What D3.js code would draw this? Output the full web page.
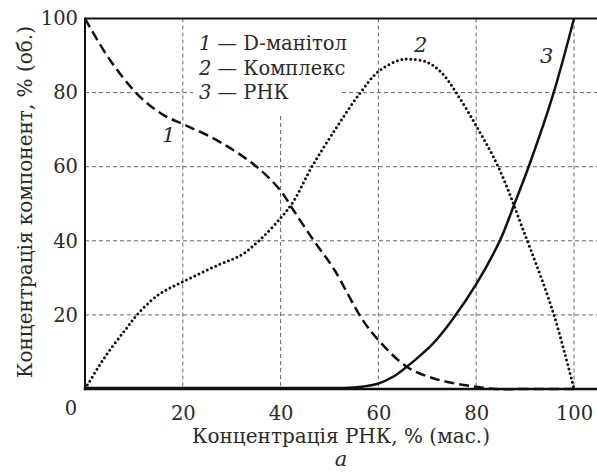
<!DOCTYPE html>
<html><head><meta charset="utf-8">
<script src="https://cdn.jsdelivr.net/npm/d3@7"></script>
<style>body{margin:0;background:#fff}svg{display:block}text{font-family:"DejaVu Serif",serif;fill:#2a2a2a}</style>
</head><body><svg id="c" width="597" height="474"></svg>
<script>
const xTicks=[20,40,60,80,100];
const yTicks=[20,40,60,80,100];
const mannitolX=[0,5,11.2,16,20,25,30.3,35.1,39.9,42.6,46.7,50.8,56.6,60,65.8,71.2,76,80,84,90,100];
const mannitolY=[100,89,78.9,74,71.5,68.5,64.5,60,53.7,48.3,40.2,32.6,19,13.2,6,2.9,1.4,0.6,0,0,0];
const complexX=[0,4.1,8.2,10.9,15,20.1,27.3,32,35.4,39.9,42.6,46.4,51.1,56.2,60,64.4,66.5,70,73,76,80.1,84.5,89.6,95.8,100];
const complexY=[0,8.7,15.9,20.4,25.4,29,33.5,36.2,39.8,46,50.6,60,69.9,79.8,85.7,88.8,89,88.2,85.3,79.8,70.8,60,43,20.4,0];
const rnaX=[0,20,40,50,54,57,60,63,65.8,68,71.2,75,80.1,84.9,87.6,91,95.8,100];
const rnaY=[0.3,0.3,0.3,0.3,0.35,0.7,1.5,3.3,6,8.4,12.3,18.5,28.5,40.2,49.2,61,79.8,100];
const legendNums=["1","2","3"];
const legendNames=["D-манітол","Комплекс","РНК"];

const svg=d3.select("#c");
const x=d3.scaleLinear().domain([0,100]).range([85,574]);
const y=d3.scaleLinear().domain([0,100]).range([389,18.5]);
const right=597;
const FS=19.5;

// grid
const g=svg.append("g").attr("stroke","#666").attr("stroke-width",1).attr("stroke-dasharray","4,3");
[20,40,60].forEach(v=>g.append("line").attr("x1",x(0)).attr("x2",right).attr("y1",y(v)).attr("y2",y(v)));
g.append("line").attr("x1",x(0)).attr("x2",193).attr("y1",y(80)).attr("y2",y(80));
g.append("line").attr("x1",342).attr("x2",right).attr("y1",y(80)).attr("y2",y(80));
[20,60,80,100].forEach(v=>g.append("line").attr("x1",x(v)).attr("x2",x(v)).attr("y1",y(100)).attr("y2",y(0)));
g.append("line").attr("x1",x(40)).attr("x2",x(40)).attr("y1",116).attr("y2",y(0));

// curves
const line=d3.line().x(d=>x(d[0])).y(d=>y(d[1])).curve(d3.curveCatmullRom.alpha(0.5));
svg.append("path").datum(d3.zip(mannitolX,mannitolY)).attr("d",line)
  .attr("fill","none").attr("stroke","#111").attr("stroke-width",2.5).attr("stroke-dasharray","10,5");
svg.append("path").datum(d3.zip(complexX,complexY)).attr("d",line)
  .attr("fill","none").attr("stroke","#111").attr("stroke-width",3).attr("stroke-linecap","round").attr("stroke-dasharray","0,4.6");
svg.append("path").datum(d3.zip(rnaX,rnaY)).attr("d",line)
  .attr("fill","none").attr("stroke","#111").attr("stroke-width",2.5);

// frame lines
svg.append("line").attr("x1",x(0)).attr("x2",right).attr("y1",y(100)).attr("y2",y(100)).attr("stroke","#111").attr("stroke-width",2);
svg.append("line").attr("x1",x(0)).attr("x2",right).attr("y1",y(0)).attr("y2",y(0)).attr("stroke","#111").attr("stroke-width",2.6);
svg.append("line").attr("x1",x(0)).attr("x2",x(0)).attr("y1",y(100)-1).attr("y2",y(0)+1).attr("stroke","#111").attr("stroke-width",2);

// axes labels via d3 axes
const ax=svg.append("g").attr("transform",`translate(0,${y(0)})`)
  .call(d3.axisBottom(x).tickValues(xTicks).tickSize(0).tickPadding(12));
const ay=svg.append("g").attr("transform",`translate(${x(0)},0)`)
  .call(d3.axisLeft(y).tickValues(yTicks).tickSize(0).tickPadding(7));
[ax,ay].forEach(a=>{a.attr("font-family",null);a.select(".domain").remove();a.selectAll("text").attr("font-size",FS).attr("fill","#2a2a2a");});
ax.selectAll("text").attr("dy","0.95em");
svg.append("text").attr("x",x(0)-14).attr("y",415).attr("text-anchor","middle").attr("font-size",FS).text("0");

// titles
svg.append("text").attr("x",341).attr("y",443).attr("text-anchor","middle").attr("font-size",20).text("Концентрація РНК, % (мас.)");
svg.append("text").attr("x",341).attr("y",466).attr("text-anchor","middle").attr("font-size",21).attr("font-style","italic").text("a");
svg.append("text").attr("transform","translate(32,202) rotate(-90)").attr("text-anchor","middle").attr("font-size",20).text("Концентрація компонент, % (об.)");

// legend
const lg=svg.append("g");
legendNums.forEach((n,i)=>{
  const t=lg.append("text").attr("x",199).attr("y",50+i*24.5).attr("font-size",FS);
  t.append("tspan").attr("font-style","italic").text(n);
  t.append("tspan").text(" — "+legendNames[i]);
});

// curve labels
svg.append("text").attr("x",162).attr("y",142).attr("font-size",21).attr("font-style","italic").text("1");
svg.append("text").attr("x",414).attr("y",52).attr("font-size",21).attr("font-style","italic").text("2");
svg.append("text").attr("x",540).attr("y",63).attr("font-size",21).attr("font-style","italic").text("3");
</script></body></html>
